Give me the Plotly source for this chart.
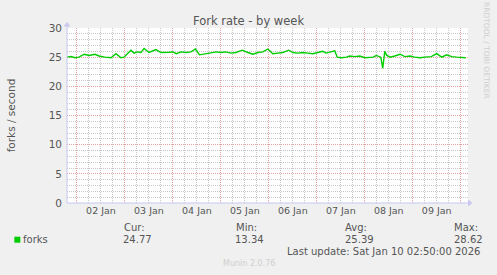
import plotly.graph_objects as go
import pandas as pd

# ---- data ----
start_time = "2026-01-01 19:00"
hours_offset = [0, 2, 4, 6, 8.6, 11, 14, 16, 19, 21, 22, 24.5, 27, 28.5, 30, 32, 33.5, 35, 37, 38.6,
                41, 44.5, 47, 49.5, 51, 53, 54.7, 57, 59.6, 62, 64.3, 66.3, 68.8, 71.3, 74.7, 77, 79.5,
                82, 84.5, 87.7, 90.5, 93, 95.5, 98, 100.5, 103, 105.5, 108, 111, 113, 115.5, 118, 120.5,
                123, 125.5, 128, 129.7, 131.3, 134, 135.2, 137.3, 139.8, 141.5, 144, 146.5, 149, 151.5,
                153.3, 154.7, 156.3, 157, 158, 159, 160, 161.7, 164, 166.7, 169, 171.7, 174, 176.7, 179,
                182.3, 185, 187.5, 190, 192.5, 195, 197.5, 199.5]
forks = [25.0, 25.1, 24.9, 25.0, 25.5, 25.3, 25.5, 25.2, 25.0, 24.95, 24.9, 25.6, 24.9, 25.0, 25.5, 26.2,
         25.7, 25.9, 25.8, 26.5, 25.8, 26.3, 25.8, 25.9, 25.85, 25.9, 25.6, 25.9, 25.8, 25.9, 26.4, 25.4,
         25.6, 25.7, 25.9, 25.8, 25.9, 25.7, 25.8, 26.2, 25.8, 25.5, 25.8, 25.9, 26.4, 25.6, 25.7, 25.8,
         26.2, 25.8, 25.7, 25.8, 25.7, 25.6, 25.8, 26.0, 25.7, 25.9, 26.1, 25.0, 24.9, 25.0, 25.2, 25.1,
         25.2, 24.9, 25.0, 25.0, 25.3, 25.0, 25.0, 23.1, 26.0, 25.3, 25.0, 25.2, 25.5, 25.1, 25.2, 25.0,
         24.9, 25.0, 25.1, 25.6, 25.0, 25.4, 25.1, 25.0, 25.0, 24.9]
range_hours = 200.65
y_range = [0, 30]
stat_labels = ["Cur:", "Min:", "Avg:", "Max:"]
stat_values = ["24.77", "13.34", "25.39", "28.62"]
title = "Fork rate - by week"
y_title = "forks / second"
series_name = "forks"
last_update = "Last update: Sat Jan 10 02:50:00 2026"
footer = "Munin 2.0.76"
side_text = "RRDTOOL / TOBI OETIKER"

t0 = pd.Timestamp(start_time)
times = [t0 + pd.Timedelta(hours=h) for h in hours_offset]
t_end = t0 + pd.Timedelta(hours=range_hours)

W, H = 497, 275
L, R, T, B = 66.7, 29, 28, 72
PW, PH = W - L - R, H - T - B

def px(x):
    return (x - L) / PW

def py(y):
    return (H - B - y) / PH

TXT = "#555555"
FONT = "DejaVu Sans"
AX = "#C8C8F0"
RED = "#E8A0A0"
GRAY = "#C8C8C8"
DASH = "1px,1px"

fig = go.Figure()
fig.add_trace(go.Scatter(x=times, y=forks, mode="lines",
                         line=dict(color="#00CC00", width=1.4), showlegend=False,
                         hoverinfo="skip"))

fig.update_layout(
    width=W, height=H,
    margin=dict(l=L, r=R, t=T, b=B),
    paper_bgcolor="#F0F0F0", plot_bgcolor="#FFFFFF",
    font=dict(family=FONT, color=TXT, size=9.5),
    xaxis=dict(type="date", range=[t0, t_end], tick0="2026-01-02", dtick=86400000,
               tickformat="%d %b", ticklabelmode="period", ticks="",
               showgrid=True, gridcolor=RED, griddash=DASH, gridwidth=1,
               minor=dict(dtick=6 * 3600000, tick0="2026-01-02", showgrid=True,
                          gridcolor=GRAY, griddash=DASH, gridwidth=1),
               showline=False, zeroline=False, tickfont=dict(size=9.5, color=TXT),
               fixedrange=True),
    yaxis=dict(range=y_range, dtick=5, tick0=0, ticks="", showgrid=True,
               gridcolor=RED, griddash=DASH, gridwidth=1,
               minor=dict(dtick=1, showgrid=True, gridcolor=GRAY, griddash=DASH, gridwidth=1),
               showline=False, zeroline=False, ticklabelstandoff=4,
               tickfont=dict(size=10.5, color=TXT), fixedrange=True),
)

# axis lines with arrows
fig.add_shape(type="line", xref="paper", yref="paper", x0=0, x1=px(470), y0=0, y1=0,
              line=dict(color=AX, width=1))
fig.add_shape(type="line", xref="paper", yref="paper", x0=0, x1=0, y0=0, y1=py(24),
              line=dict(color=AX, width=1))
fig.add_shape(type="path", xref="paper", yref="paper",
              path=f"M {px(468)} {py(199.5)} L {px(472.5)} {py(203)} L {px(468)} {py(206.5)} Z",
              fillcolor=AX, line=dict(width=0))
fig.add_shape(type="path", xref="paper", yref="paper",
              path=f"M {px(63.2)} {py(26.5)} L {px(66.7)} {py(22)} L {px(70.2)} {py(26.5)} Z",
              fillcolor=AX, line=dict(width=0))

ann = []
ann.append(dict(text=title, x=px(248), y=py(21), font=dict(size=11.5, color=TXT)))
ann.append(dict(text=y_title, x=px(11), y=py(115), textangle=-90, font=dict(size=10.5, color=TXT)))
ann.append(dict(text=side_text, x=px(487), y=py(51), textangle=90, font=dict(size=7.5, color="#CFCFCF")))
ann.append(dict(text=series_name, x=px(20.5), y=py(239.5), xanchor="left", font=dict(size=10, color=TXT)))
stat_x = [134, 246, 356, 466]
for sx, lab, val in zip(stat_x, stat_labels, stat_values):
    ann.append(dict(text=lab, x=px(sx), y=py(227), font=dict(size=10, color=TXT)))
    ann.append(dict(text=val, x=px(sx + 3), y=py(239.5), font=dict(size=10, color=TXT)))
ann.append(dict(text=last_update, x=px(482), y=py(251), xanchor="right", font=dict(size=10, color=TXT)))
ann.append(dict(text=footer, x=px(248.5), y=py(263), font=dict(size=8, color="#CFCFCF")))
for a in ann:
    a.setdefault("xanchor", "center")
    a.update(xref="paper", yref="paper", yanchor="middle", showarrow=False)
fig.update_layout(annotations=ann)

fig.add_shape(type="rect", xref="paper", yref="paper", x0=px(14), x1=px(20), y0=py(242.7), y1=py(236.7),
              fillcolor="#00CC00", line=dict(width=0))

fig.write_html("out.html")
